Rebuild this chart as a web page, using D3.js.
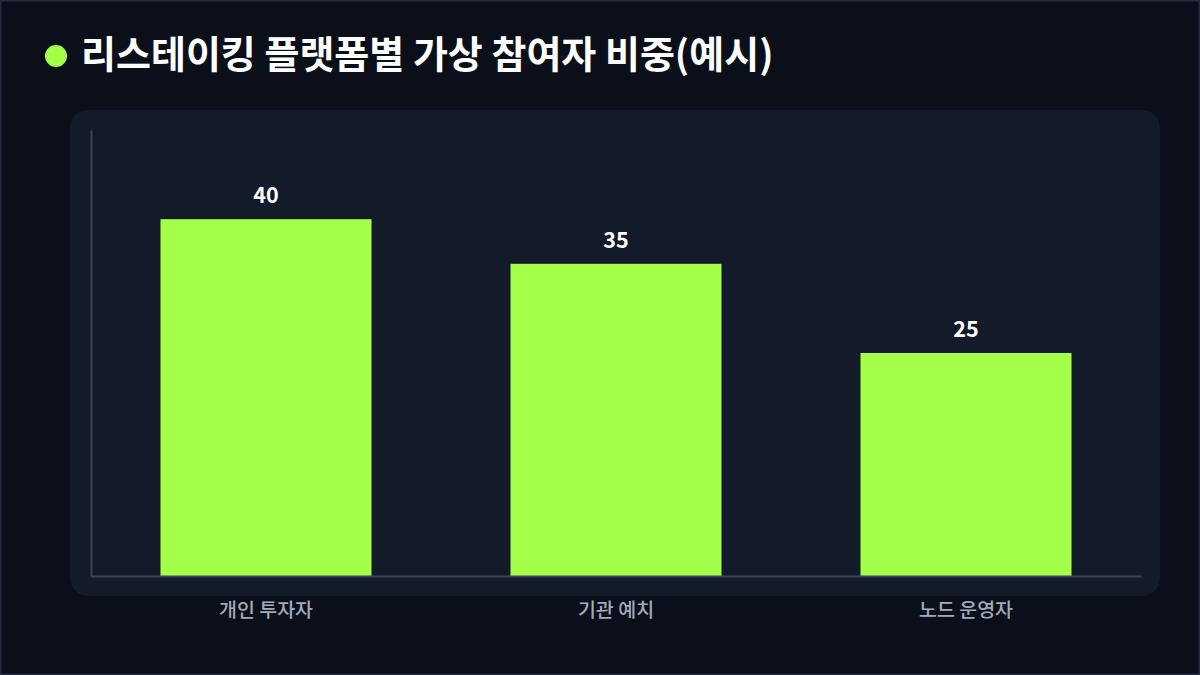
<!DOCTYPE html>
<html>
<head>
<meta charset="utf-8">
<script src="https://cdn.jsdelivr.net/npm/d3@7"></script>
<style>
  html, body { margin: 0; padding: 0; background: #0b0f19; }
  svg { display: block; font-family: "Noto Sans CJK KR", "Noto Sans", sans-serif; }
</style>
</head>
<body>
<div id="chart"></div>
<script>
// chart data
var categories = ["개인 투자자", "기관 예치", "노드 운영자"];
var shares = [40, 35, 25];
var titleText = "리스테이킹 플랫폼별 가상 참여자 비중(예시)";

var width = 1200,
    height = 675;

var svg = d3.select("#chart")
    .append("svg")
    .attr("width", width)
    .attr("height", height);

// page background + thin frame
svg.append("rect")
    .attr("x", 0.5).attr("y", 0.5)
    .attr("width", width - 1).attr("height", height - 1)
    .attr("fill", "#0b0f19")
    .attr("stroke", "#232a3b")
    .attr("stroke-width", 2);

// title with dot
svg.append("circle")
    .attr("cx", 56).attr("cy", 56).attr("r", 11)
    .attr("fill", "#a3ff47");

svg.append("text")
    .attr("x", 81).attr("y", 68)
    .attr("fill", "#ffffff")
    .style("font-size", "38px")
    .style("font-weight", "700")
    .text(titleText);

// panel
svg.append("rect")
    .attr("x", 70).attr("y", 110)
    .attr("width", 1090).attr("height", 486)
    .attr("rx", 18)
    .attr("fill", "#131a29");

var plotLeft = 91, plotRight = 1141, plotTop = 130, plotBottom = 576;

var x = d3.scaleBand()
    .domain(categories)
    .range([plotLeft, plotRight])
    .paddingInner(0.4)
    .paddingOuter(0.2);

var y = d3.scaleLinear()
    .domain([0, 50])
    .range([plotBottom, plotTop]);

// bars
svg.selectAll(".bar")
    .data(shares)
    .enter()
    .append("rect")
    .attr("class", "bar")
    .attr("x", function(d, i){ return x(categories[i]) - 0.5; })
    .attr("y", function(d){ return y(d); })
    .attr("width", x.bandwidth() + 1)
    .attr("height", function(d){ return y(0) - y(d); })
    .attr("fill", "#a3ff47");

// value labels
svg.selectAll(".valueLabel")
    .data(shares)
    .enter()
    .append("text")
    .attr("class", "valueLabel")
    .attr("x", function(d, i){ return x(categories[i]) + x.bandwidth() / 2; })
    .attr("y", function(d){ return y(d) - 16; })
    .attr("text-anchor", "middle")
    .attr("fill", "#ffffff")
    .style("font-size", "21.5px")
    .style("font-weight", "700")
    .text(function(d){ return d; });

// axes lines (no ticks)
var xAxis = svg.append("g")
    .attr("transform", "translate(0," + plotBottom + ")")
    .call(d3.axisBottom(x).tickSize(0).tickPadding(27));
xAxis.select(".domain").attr("stroke", "#3b4458").attr("stroke-width", 2);
xAxis.selectAll("text")
    .attr("fill", "#a3abbb")
    .style("font-size", "19.5px")
    .style("font-weight", "500")
    .style("font-family", "\"Noto Sans CJK KR\", sans-serif");

var yAxis = svg.append("g")
    .attr("transform", "translate(" + plotLeft + ",0)")
    .call(d3.axisLeft(y).tickSize(0).tickValues([]));
yAxis.select(".domain").attr("stroke", "#3b4458").attr("stroke-width", 2);
</script>
</body>
</html>
